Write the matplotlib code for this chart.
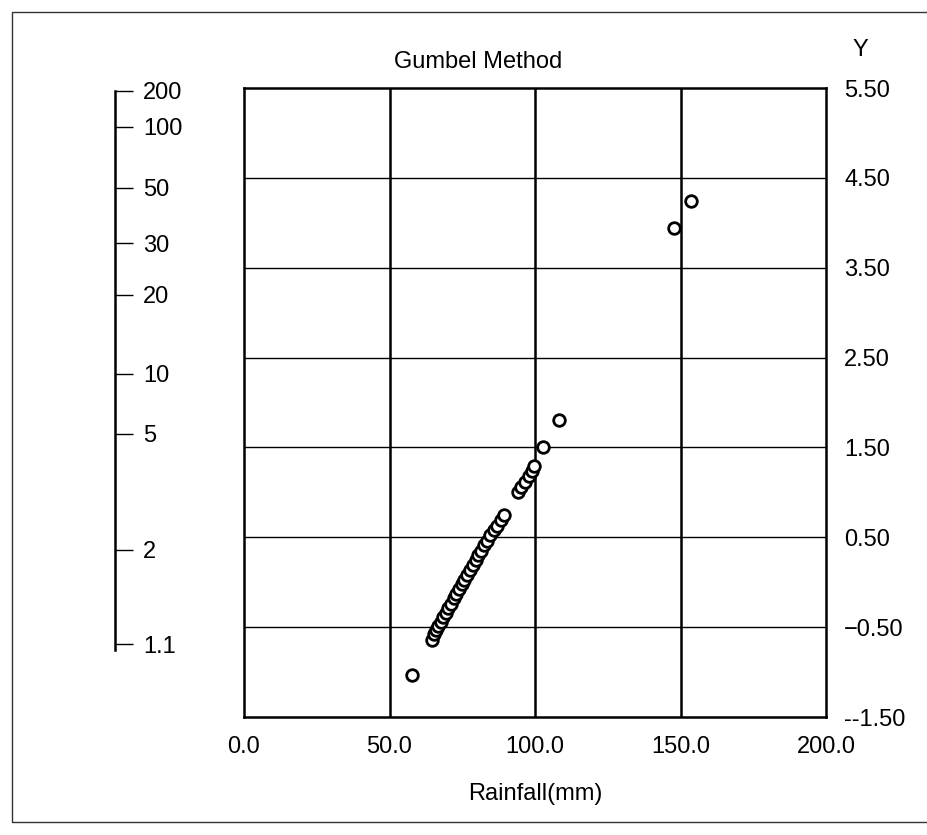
import matplotlib

matplotlib.use("Agg")

import matplotlib.pyplot as plt
from matplotlib.patches import Rectangle

plt.rcParams["font.family"] = ["Liberation Sans", "DejaVu Sans"]
plt.rcParams["axes.unicode_minus"] = False

OUTPUT_PNG = "out.png"

# rainfall (mm) and reduced variate Y
rainfall_mm = [
    57.6,
    64.5, 65.3, 66.0, 66.8, 67.6, 68.5, 69.3, 70.2, 71.0, 72.0, 72.9, 73.8,
    74.8, 75.7, 76.7, 77.6, 78.6, 79.6, 80.5, 81.5, 82.5, 83.6, 84.7, 85.8,
    86.9, 88.2, 89.5,
    94.0, 95.2, 96.5, 97.8, 99.0, 99.8,
    102.6, 108.4, 147.9, 153.7,
]
reduced_y = [
    -1.03,
    -0.64, -0.58, -0.53, -0.49, -0.44, -0.39, -0.34, -0.29, -0.24, -0.18, -0.13, -0.08,
    -0.02, 0.03, 0.08, 0.14, 0.19, 0.25, 0.30, 0.35, 0.41, 0.46, 0.52, 0.58,
    0.63, 0.69, 0.75,
    1.00, 1.06, 1.12, 1.18, 1.24, 1.29,
    1.50, 1.80, 3.94, 4.24,
]

y_ticks = [5.5, 4.5, 3.5, 2.5, 1.5, 0.5, -0.5, -1.5]
y_tick_labels = ["5.50", "4.50", "3.50", "2.50", "1.50", "0.50", "\u22120.50", "--1.50"]
x_ticks = [0, 50, 100, 150, 200]
x_tick_labels = ["0.0", "50.0", "100.0", "150.0", "200.0"]

# return period scale, placed at the Y values where it is drawn
return_period_labels = ["200", "100", "50", "30", "20", "10", "5", "2", "1.1"]
return_period_y = [5.47, 5.07, 4.39, 3.77, 3.20, 2.32, 1.65, 0.36, -0.69]

W, H = 928, 835
FS = 17


def fx(px):
    return px / W


def fy(py):
    return 1 - py / H


def build_chart():
    fig = plt.figure(figsize=(W / 100, H / 100), dpi=100)

    # outer frame of the scanned page
    fig.patches.append(Rectangle((fx(12), fy(822)), fx(940) - fx(12), fy(12) - fy(822),
                                 transform=fig.transFigure, fill=False,
                                 edgecolor="#333333", linewidth=1.0))

    left, right, top, bottom = 244, 826, 88, 717
    ax = fig.add_axes([fx(left), fy(bottom), fx(right - left), fy(top) - fy(bottom)])
    ax.set_xlim(0, 200)
    ax.set_ylim(-1.5, 5.5)

    for v in [50, 100, 150]:
        ax.axvline(v, color="black", linewidth=1.8, zorder=1)
    for v in [4.5, 3.5, 2.5, 1.5, 0.5, -0.5]:
        ax.axhline(v, color="black", linewidth=1.0, zorder=1)

    ax.scatter(rainfall_mm, reduced_y, s=70, facecolors="white", edgecolors="black",
               linewidths=2.0, zorder=3)

    for s in ax.spines.values():
        s.set_linewidth(1.8)

    ax.set_xticks(x_ticks)
    ax.set_xticklabels(x_tick_labels, fontsize=FS)
    ax.tick_params(axis="x", length=0, pad=14)
    ax.yaxis.tick_right()
    ax.set_yticks(y_ticks)
    ax.set_yticklabels(y_tick_labels, fontsize=FS)
    ax.tick_params(axis="y", length=0, pad=13)
    ax.set_xlabel("Rainfall(mm)", fontsize=FS, labelpad=18)

    fig.text(fx(478), fy(62), "Gumbel Method", fontsize=FS, ha="center", va="center")
    fig.text(fx(860), fy(50), "Y", fontsize=FS, ha="center", va="center")

    # return period scale on the left
    rp = fig.add_axes([fx(40), fy(bottom), fx(115 - 40), fy(top) - fy(bottom)])
    rp.set_ylim(-1.5, 5.5)
    rp.set_xticks([])
    for name in ["left", "top", "bottom"]:
        rp.spines[name].set_visible(False)
    rp.spines["right"].set_linewidth(1.8)
    rp.spines["right"].set_bounds(-0.75, 5.47)
    rp.patch.set_alpha(0)
    rp.yaxis.tick_right()
    rp.set_yticks(return_period_y)
    rp.set_yticklabels(return_period_labels, fontsize=FS)
    rp.tick_params(axis="y", direction="out", length=13, width=1.0, pad=7)

    fig.savefig(OUTPUT_PNG, dpi=100)
    plt.close(fig)


def main():
    build_chart()
    print(f"PNG saved to: {OUTPUT_PNG}")


if __name__ == "__main__":
    main()
